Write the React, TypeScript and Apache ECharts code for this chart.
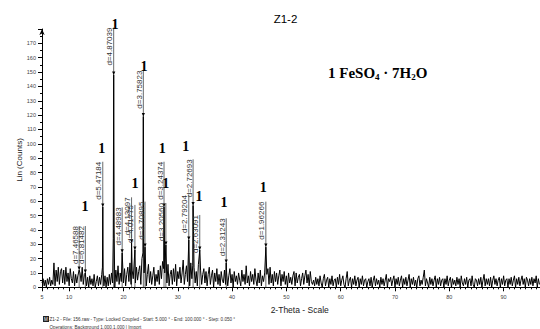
import React, { useEffect, useRef } from "react";
import * as echarts from "echarts";

// background counts, 2θ from 5.0 at 0.2° steps
const bgStart = 5.0;
const bgStep = 0.2;
const bg05 = [3, 6, 1, 5, 0, 6, 2, 7, 1, 5, 2, 17, 1, 12, 4, 14, 2, 11, 13, 3, 12, 2, 14, 4, 10, 1, 13, 6, 3, 11, 1, 9, 3, 8, 0, 10, 4, 14, 2, 9, 12, 1, 7, 0, 8, 2, 6, 1, 9, 0];
const bg15 = [4, 8, 1, 7, 2, 9, 5, 1, 8, 0, 7, 1, 9, 2, 10, 3, 8, 0, 12, 4, 15, 2, 10, 4, 18, 3, 13, 1, 9, 14, 4, 17, 2, 12, 6, 19, 3, 14, 5, 11, 15, 2, 20, 4, 10, 13, 1, 9, 16, 3];
const bg25 = [11, 2, 8, 14, 1, 9, 4, 12, 2, 15, 6, 18, 2, 10, 13, 3, 16, 1, 9, 12, 2, 13, 4, 16, 1, 11, 6, 14, 3, 10, 19, 2, 9, 15, 4, 12, 1, 17, 6, 10, 14, 3, 11, 1, 16, 5, 12, 2, 9, 13];
const bg35 = [3, 11, 1, 9, 14, 2, 8, 12, 0, 10, 4, 13, 2, 9, 1, 11, 5, 3, 12, 2, 10, 1, 8, 13, 3, 9, 0, 11, 4, 8, 2, 10, 5, 1, 12, 4, 9, 2, 15, 3, 8, 1, 11, 4, 9, 2, 13, 5, 1, 10];
const bg45 = [3, 12, 1, 8, 4, 10, 2, 9, 13, 2, 14, 3, 9, 1, 11, 4, 10, 2, 8, 12, 1, 9, 4, 11, 2, 8, 0, 10, 3, 7, 2, 8, 11, 1, 10, 3, 7, 9, 1, 6, 10, 2, 8, 12, 3, 9, 1, 11, 4, 2];
const bg55 = [5, 1, 7, 2, 6, 1, 8, 3, 0, 6, 9, 1, 5, 7, 0, 6, 2, 8, 1, 5, 6, 0, 7, 2, 9, 1, 5, 8, 2, 0, 6, 11, 1, 5, 7, 0, 6, 2, 8, 1, 5, 7, 0, 6, 2, 8, 1, 5, 6, 0];
const bg65 = [4, 6, 1, 7, 0, 5, 8, 1, 6, 2, 5, 0, 7, 2, 6, 1, 5, 9, 0, 6, 4, 7, 1, 5, 8, 0, 6, 2, 7, 1, 5, 8, 0, 6, 2, 7, 1, 5, 9, 0, 6, 2, 7, 1, 5, 0, 6, 8, 1, 5];
const bg75 = [2, 7, 12, 1, 6, 3, 0, 7, 2, 6, 1, 5, 8, 0, 6, 2, 7, 1, 5, 6, 0, 6, 2, 8, 1, 5, 7, 0, 6, 2, 5, 1, 7, 2, 6, 0, 8, 3, 1, 6, 2, 7, 0, 5, 6, 1, 8, 2, 0, 6];
const bg85 = [5, 1, 6, 2, 7, 0, 5, 9, 1, 6, 2, 6, 1, 7, 0, 5, 8, 2, 6, 1, 5, 7, 0, 6, 2, 8, 1, 5, 6, 0, 6, 2, 7, 1, 5, 8, 0, 6, 2, 7, 1, 5, 8, 2, 6, 0, 7, 5, 1, 6, 2, 7, 1, 6, 3, 8, 0, 6, 2];

// reflections (2θ, counts at arrow)
const peakTheta = [11.84, 12.98, 16.19, 18.2, 19.76, 21.49, 22.11, 23.66, 23.97, 27.47, 27.81, 32.03, 32.82, 34.05, 38.92, 46.22];
const peakCounts = [12, 10, 56, 148, 24, 31, 26, 119, 28, 56, 29.5, 33, 57, 26, 17, 28];
const labelTopCounts = [42.7, 42.7, 87.5, 181, 55.7, 62.7, 57.4, 151, 59.7, 87.5, 58.7, 64.3, 89.2, 50.4, 48.1, 59.7];
const dLabels = ["d=7.46588", "d=6.81482", "d=5.47184", "d=4.87039", "d=4.48983", "d=4.13097", "d=4.01775", "d=3.75823", "d=3.70895", "d=3.24374", "d=3.20560", "d=2.79204", "d=2.72693", "d=2.63091", "d=2.31243", "d=1.96266"];

// peak shoulders
const shoulderTheta = [18.12, 18.28, 23.59, 23.73, 16.13, 16.25, 27.41, 32.76];
const shoulderCounts = [34, 42, 24, 30, 14, 12, 13, 15];

// phase "1" markers
const oneTheta = [12.92, 16.0, 18.44, 23.78, 22.13, 27.15, 27.78, 31.46, 33.9, 38.5, 45.76];
const oneCounts = [56, 97, 183, 154, 72, 96.4, 72, 97.8, 63.6, 59.4, 69.2];

const xLabelValues = [5, 10, 20, 30, 40, 50, 60, 70, 80, 90];

function buildLine(): number[][] {
  const bg = [...bg05, ...bg15, ...bg25, ...bg35, ...bg45, ...bg55, ...bg65, ...bg75, ...bg85];
  const special: number[][] = [];
  peakTheta.forEach((t, i) => special.push([t, peakCounts[i]]));
  shoulderTheta.forEach((t, i) => special.push([t, shoulderCounts[i]]));
  const pts: number[][] = [];
  bg.forEach((v, i) => {
    const x = +(bgStart + i * bgStep).toFixed(2);
    if (special.some((s) => Math.abs(s[0] - x) < 0.07)) return;
    pts.push([x, v]);
  });
  return pts.concat(special).sort((a, b) => a[0] - b[0]);
}

export default function App() {
  const ref = useRef<HTMLDivElement>(null);
  useEffect(() => {
    if (!ref.current) return;
    const chart = echarts.init(ref.current, undefined, { renderer: "svg" });
    const sans = "Liberation Sans, Arial, sans-serif";
    const serif = "Liberation Serif, Times New Roman, serif";
    const baseGraphics: any[] = [
      { type: "text", x: 285.5, y: 19, style: { text: "Z1-2", fontSize: 11.5, fontFamily: sans, fill: "#000", align: "center", verticalAlign: "middle" } },
      {
        type: "text",
        x: 328,
        y: 72.5,
        style: {
          text: "1 FeSO{sub|4} · 7H{sub|2}O",
          fontSize: 15,
          fontWeight: "bold",
          fontFamily: serif,
          fill: "#000",
          lineHeight: 17,
          align: "left",
          verticalAlign: "middle",
          rich: { sub: { fontSize: 9, fontWeight: "bold", fontFamily: serif, lineHeight: 9, verticalAlign: "bottom" } },
        },
      },
      { type: "text", x: 19.7, y: 160, rotation: Math.PI / 2, style: { text: "Lin (Counts)", fontSize: 8, fontFamily: sans, fill: "#222", align: "center", verticalAlign: "middle" } },
      { type: "text", x: 299.7, y: 310, style: { text: "2-Theta - Scale", fontSize: 8.5, fontFamily: sans, fill: "#222", align: "center", verticalAlign: "middle" } },
      { type: "rect", shape: { x: 43, y: 316, width: 6, height: 6 }, style: { fill: "#222" } },
      { type: "text", x: 45.9, y: 319.2, style: { text: "M", fontSize: 4.5, fontFamily: sans, fill: "#fff", align: "center", verticalAlign: "middle" } },
      {
        type: "text",
        x: 49.5,
        y: 319.3,
        style: {
          text: "Z1-2 - File: 156.raw - Type: Locked Coupled - Start: 5.000 ° - End: 100.000 ° - Step: 0.050 °",
          fontSize: 4.6,
          fontFamily: sans,
          fill: "#333",
          align: "left",
          verticalAlign: "middle",
        },
      },
      {
        type: "text",
        x: 49.5,
        y: 327.5,
        style: { text: "Operations: Background 1.000,1.000 | Import", fontSize: 4.6, fontFamily: sans, fill: "#333", align: "left", verticalAlign: "middle" },
      },
    ];
    chart.setOption({
      animation: false,
      backgroundColor: "#fff",
      grid: { left: 42, right: 0, top: 29, bottom: 41.7, outerBoundsMode: "none" },
      xAxis: [
        {
          type: "value",
          min: 5,
          max: 96.7,
          axisLine: { lineStyle: { color: "#000", width: 1 } },
          axisTick: { customValues: xLabelValues, length: 4, lineStyle: { color: "#000" } },
          axisLabel: { customValues: xLabelValues, fontSize: 5.5, color: "#444", fontFamily: sans, margin: 7 },
          splitLine: { show: false },
        },
        {
          type: "value",
          position: "bottom",
          min: 5,
          max: 96.7,
          interval: 1,
          axisLine: { show: false },
          axisTick: { length: 2, lineStyle: { color: "#000" } },
          axisLabel: { show: false },
          splitLine: { show: false },
        },
      ],
      yAxis: {
        type: "value",
        min: 0,
        max: 180,
        interval: 10,
        axisLine: { show: true, symbol: ["none", "arrow"], symbolSize: [4, 6], lineStyle: { color: "#000", width: 1 } },
        axisTick: { show: true, length: 4, lineStyle: { color: "#000" } },
        minorTick: { show: true, splitNumber: 2, length: 2, lineStyle: { color: "#000" } },
        axisLabel: {
          fontSize: 5.5,
          color: "#444",
          fontFamily: sans,
          margin: 6,
          formatter: (v: number) => (v > 170 ? "" : String(v)),
        },
        splitLine: { show: false },
      },
      series: [
        {
          type: "custom",
          z: 1,
          silent: true,
          encode: { x: 0, y: 1 },
          data: peakTheta.map((t, i) => [t, peakCounts[i], labelTopCounts[i]]),
          renderItem: (params: any, api: any) => {
            const x = api.value(0);
            const base = api.coord([x, 0]);
            const pk = api.coord([x, api.value(1)]);
            const top = api.coord([x, api.value(2)]);
            return {
              type: "group",
              children: [
                { type: "line", shape: { x1: pk[0], y1: top[1], x2: pk[0], y2: base[1] }, style: { stroke: "#444", lineWidth: 0.8 } },
                {
                  type: "polygon",
                  shape: { points: [[pk[0] - 1.6, pk[1] - 3.5], [pk[0] + 1.6, pk[1] - 3.5], [pk[0], pk[1]]] },
                  style: { fill: "#000", stroke: "none" },
                },
              ],
            };
          },
        },
        {
          type: "line",
          z: 3,
          silent: true,
          data: buildLine(),
          showSymbol: false,
          symbol: "none",
          lineStyle: { color: "#000", width: 1 },
          xAxisIndex: 0,
        },
        {
          type: "custom",
          z: 4,
          silent: true,
          encode: { x: 0, y: 1 },
          data: oneTheta.map((t, i) => [t, oneCounts[i]]),
          renderItem: (params: any, api: any) => {
            const p = api.coord([api.value(0), api.value(1)]);
            return {
              type: "text",
              x: p[0],
              y: p[1],
              style: { text: "1", fontSize: 14, fontWeight: "bold", fontFamily: serif, fill: "#000", align: "center", verticalAlign: "middle" },
            };
          },
        },
      ],
      graphic: baseGraphics,
    });
    // d-spacing labels positioned through the chart's own scales
    const labelGraphics = peakTheta.map((t, i) => {
      const p = chart.convertToPixel({ xAxisIndex: 0, yAxisIndex: 0 }, [t, labelTopCounts[i]]) as number[];
      return {
        type: "text",
        x: p[0] - 4,
        y: p[1],
        rotation: Math.PI / 2,
        z: 50,
        style: { text: dLabels[i], fontSize: 8, fontFamily: sans, fill: "#333", align: "right", verticalAlign: "middle" },
      };
    });
    chart.setOption({ graphic: [...baseGraphics, ...labelGraphics] });
    return () => chart.dispose();
  }, []);
  return <div ref={ref} style={{ position: "fixed", left: 0, top: 0, width: 540, height: 329, background: "#fff" }} />;
}
